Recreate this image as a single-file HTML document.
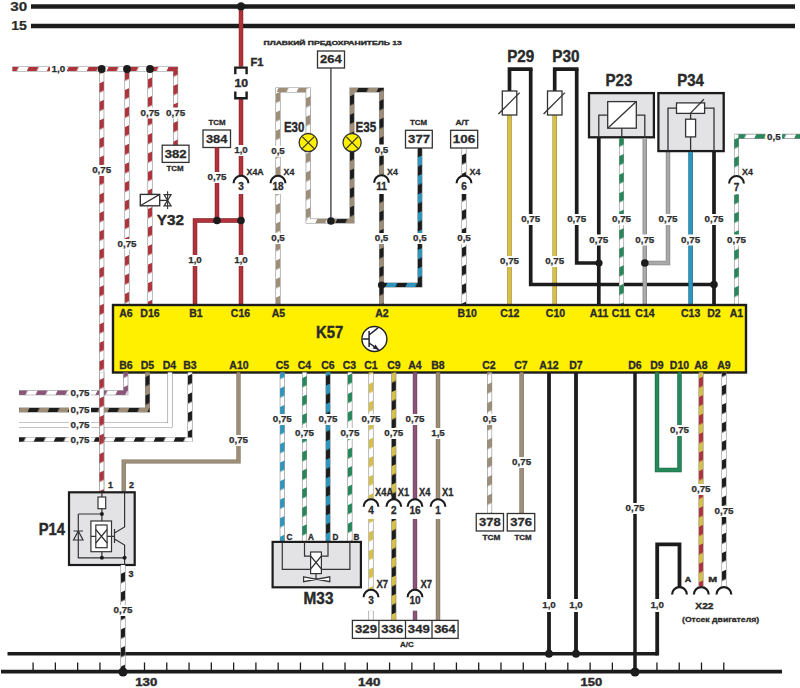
<!DOCTYPE html>
<html><head><meta charset="utf-8"><style>
html,body{margin:0;padding:0;background:#fff;}
svg{display:block;}
text{font-family:"Liberation Sans",sans-serif;}
</style></head><body>
<svg width="800" height="688" viewBox="0 0 800 688">
<defs><pattern id="p0" patternUnits="userSpaceOnUse" width="18.1" height="18.1" patternTransform="rotate(25)"><rect width="18.1" height="18.1" fill="#fff"/><rect width="9.05" height="18.1" fill="#B0323A"/></pattern>
<pattern id="p1" patternUnits="userSpaceOnUse" width="16.8" height="16.8" patternTransform="rotate(65)"><rect width="16.8" height="16.8" fill="#fff"/><rect width="8.4" height="16.8" fill="#B0323A"/></pattern>
<pattern id="p2" patternUnits="userSpaceOnUse" width="16.8" height="16.8" patternTransform="rotate(65)"><rect width="16.8" height="16.8" fill="#fff"/><rect width="8.4" height="16.8" fill="#9E8E78"/></pattern>
<pattern id="p3" patternUnits="userSpaceOnUse" width="18.1" height="18.1" patternTransform="rotate(25)"><rect width="18.1" height="18.1" fill="#fff"/><rect width="9.05" height="18.1" fill="#9E8E78"/></pattern>
<pattern id="p4" patternUnits="userSpaceOnUse" width="18.1" height="18.1" patternTransform="rotate(25)"><rect width="18.1" height="18.1" fill="#9E8E78"/><rect width="9.05" height="18.1" fill="#1c1c1c"/></pattern>
<pattern id="p5" patternUnits="userSpaceOnUse" width="16.8" height="16.8" patternTransform="rotate(65)"><rect width="16.8" height="16.8" fill="#9E8E78"/><rect width="8.4" height="16.8" fill="#1c1c1c"/></pattern>
<pattern id="p6" patternUnits="userSpaceOnUse" width="16.8" height="16.8" patternTransform="rotate(65)"><rect width="16.8" height="16.8" fill="#1c1c1c"/><rect width="8.4" height="16.8" fill="#2D96BE"/></pattern>
<pattern id="p7" patternUnits="userSpaceOnUse" width="18.1" height="18.1" patternTransform="rotate(25)"><rect width="18.1" height="18.1" fill="#1c1c1c"/><rect width="9.05" height="18.1" fill="#2D96BE"/></pattern>
<pattern id="p8" patternUnits="userSpaceOnUse" width="16.8" height="16.8" patternTransform="rotate(65)"><rect width="16.8" height="16.8" fill="#fff"/><rect width="8.4" height="16.8" fill="#1c1c1c"/></pattern>
<pattern id="p9" patternUnits="userSpaceOnUse" width="16.8" height="16.8" patternTransform="rotate(65)"><rect width="16.8" height="16.8" fill="#fff"/><rect width="8.4" height="16.8" fill="#24885A"/></pattern>
<pattern id="p10" patternUnits="userSpaceOnUse" width="18.1" height="18.1" patternTransform="rotate(25)"><rect width="18.1" height="18.1" fill="#fff"/><rect width="9.05" height="18.1" fill="#24885A"/></pattern>
<pattern id="p11" patternUnits="userSpaceOnUse" width="16.8" height="16.8" patternTransform="rotate(65)"><rect width="16.8" height="16.8" fill="#fff"/><rect width="8.4" height="16.8" fill="#8C5478"/></pattern>
<pattern id="p12" patternUnits="userSpaceOnUse" width="18.1" height="18.1" patternTransform="rotate(25)"><rect width="18.1" height="18.1" fill="#fff"/><rect width="9.05" height="18.1" fill="#8C5478"/></pattern>
<pattern id="p13" patternUnits="userSpaceOnUse" width="16.8" height="16.8" patternTransform="rotate(65)"><rect width="16.8" height="16.8" fill="#fff"/><rect width="8.4" height="16.8" fill="#fff"/></pattern>
<pattern id="p14" patternUnits="userSpaceOnUse" width="18.1" height="18.1" patternTransform="rotate(25)"><rect width="18.1" height="18.1" fill="#fff"/><rect width="9.05" height="18.1" fill="#fff"/></pattern>
<pattern id="p15" patternUnits="userSpaceOnUse" width="18.1" height="18.1" patternTransform="rotate(25)"><rect width="18.1" height="18.1" fill="#fff"/><rect width="9.05" height="18.1" fill="#1c1c1c"/></pattern>
<pattern id="p16" patternUnits="userSpaceOnUse" width="16.8" height="16.8" patternTransform="rotate(65)"><rect width="16.8" height="16.8" fill="#fff"/><rect width="8.4" height="16.8" fill="#2D96BE"/></pattern>
<pattern id="p17" patternUnits="userSpaceOnUse" width="16.8" height="16.8" patternTransform="rotate(65)"><rect width="16.8" height="16.8" fill="#fff"/><rect width="8.4" height="16.8" fill="#D8BF46"/></pattern>
<pattern id="p18" patternUnits="userSpaceOnUse" width="16.8" height="16.8" patternTransform="rotate(65)"><rect width="16.8" height="16.8" fill="#1c1c1c"/><rect width="8.4" height="16.8" fill="#D8BF46"/></pattern>
<pattern id="p19" patternUnits="userSpaceOnUse" width="16.8" height="16.8" patternTransform="rotate(65)"><rect width="16.8" height="16.8" fill="#D8BF46"/><rect width="8.4" height="16.8" fill="#B0323A"/></pattern></defs>
<rect x="0" y="0" width="800" height="688" fill="#fff"/>
<text x="10.22" y="11.03" font-size="12.39" font-weight="bold" fill="#2a2a2a" stroke="#2a2a2a" stroke-width="0.2" textLength="16.92" lengthAdjust="spacingAndGlyphs">30</text>
<text x="11.18" y="30.17" font-size="12.57" font-weight="bold" fill="#2a2a2a" stroke="#2a2a2a" stroke-width="0.2" textLength="15.70" lengthAdjust="spacingAndGlyphs">15</text>
<polyline points="31,6.4 795,6.4" fill="none" stroke="#1c1c1c" stroke-width="4.5" stroke-linejoin="miter" stroke-linecap="butt"/>
<polyline points="31,25.9 795,25.9" fill="none" stroke="#1c1c1c" stroke-width="4.5" stroke-linejoin="miter" stroke-linecap="butt"/>
<polyline points="7.5,653.75 657.5,653.75" fill="none" stroke="#1c1c1c" stroke-width="3.5" stroke-linejoin="miter" stroke-linecap="butt"/>
<polyline points="1,671.6 782,671.6" fill="none" stroke="#1c1c1c" stroke-width="3.6" stroke-linejoin="miter" stroke-linecap="butt"/>
<line x1="33.1" y1="662.5" x2="33.1" y2="671" stroke="#1c1c1c" stroke-width="1.3"/>
<line x1="55.38" y1="662.5" x2="55.38" y2="671" stroke="#1c1c1c" stroke-width="1.3"/>
<line x1="77.66" y1="662.5" x2="77.66" y2="671" stroke="#1c1c1c" stroke-width="1.3"/>
<line x1="99.94" y1="662.5" x2="99.94" y2="671" stroke="#1c1c1c" stroke-width="1.3"/>
<line x1="122.22" y1="662.5" x2="122.22" y2="671" stroke="#1c1c1c" stroke-width="1.3"/>
<line x1="144.5" y1="662.5" x2="144.5" y2="671" stroke="#1c1c1c" stroke-width="1.3"/>
<line x1="166.78" y1="662.5" x2="166.78" y2="671" stroke="#1c1c1c" stroke-width="1.3"/>
<line x1="189.06" y1="662.5" x2="189.06" y2="671" stroke="#1c1c1c" stroke-width="1.3"/>
<line x1="211.34" y1="662.5" x2="211.34" y2="671" stroke="#1c1c1c" stroke-width="1.3"/>
<line x1="233.62" y1="662.5" x2="233.62" y2="671" stroke="#1c1c1c" stroke-width="1.3"/>
<line x1="255.9" y1="662.5" x2="255.9" y2="671" stroke="#1c1c1c" stroke-width="1.3"/>
<line x1="278.18" y1="662.5" x2="278.18" y2="671" stroke="#1c1c1c" stroke-width="1.3"/>
<line x1="300.46" y1="662.5" x2="300.46" y2="671" stroke="#1c1c1c" stroke-width="1.3"/>
<line x1="322.74" y1="662.5" x2="322.74" y2="671" stroke="#1c1c1c" stroke-width="1.3"/>
<line x1="345.02" y1="662.5" x2="345.02" y2="671" stroke="#1c1c1c" stroke-width="1.3"/>
<line x1="367.3" y1="662.5" x2="367.3" y2="671" stroke="#1c1c1c" stroke-width="1.3"/>
<line x1="389.58" y1="662.5" x2="389.58" y2="671" stroke="#1c1c1c" stroke-width="1.3"/>
<line x1="411.86" y1="662.5" x2="411.86" y2="671" stroke="#1c1c1c" stroke-width="1.3"/>
<line x1="434.14" y1="662.5" x2="434.14" y2="671" stroke="#1c1c1c" stroke-width="1.3"/>
<line x1="456.42" y1="662.5" x2="456.42" y2="671" stroke="#1c1c1c" stroke-width="1.3"/>
<line x1="478.7" y1="662.5" x2="478.7" y2="671" stroke="#1c1c1c" stroke-width="1.3"/>
<line x1="500.98" y1="662.5" x2="500.98" y2="671" stroke="#1c1c1c" stroke-width="1.3"/>
<line x1="523.26" y1="662.5" x2="523.26" y2="671" stroke="#1c1c1c" stroke-width="1.3"/>
<line x1="545.54" y1="662.5" x2="545.54" y2="671" stroke="#1c1c1c" stroke-width="1.3"/>
<line x1="567.82" y1="662.5" x2="567.82" y2="671" stroke="#1c1c1c" stroke-width="1.3"/>
<line x1="590.1" y1="662.5" x2="590.1" y2="671" stroke="#1c1c1c" stroke-width="1.3"/>
<line x1="612.38" y1="662.5" x2="612.38" y2="671" stroke="#1c1c1c" stroke-width="1.3"/>
<line x1="634.66" y1="662.5" x2="634.66" y2="671" stroke="#1c1c1c" stroke-width="1.3"/>
<line x1="656.94" y1="662.5" x2="656.94" y2="671" stroke="#1c1c1c" stroke-width="1.3"/>
<line x1="679.22" y1="662.5" x2="679.22" y2="671" stroke="#1c1c1c" stroke-width="1.3"/>
<line x1="701.5" y1="662.5" x2="701.5" y2="671" stroke="#1c1c1c" stroke-width="1.3"/>
<line x1="723.78" y1="662.5" x2="723.78" y2="671" stroke="#1c1c1c" stroke-width="1.3"/>
<text x="135.24" y="685.59" font-size="10.56" font-weight="bold" fill="#2a2a2a" stroke="#2a2a2a" stroke-width="0.4" textLength="22.03" lengthAdjust="spacingAndGlyphs">130</text>
<text x="358.08" y="685.59" font-size="11.27" font-weight="bold" fill="#2a2a2a" stroke="#2a2a2a" stroke-width="0.4" textLength="22.30" lengthAdjust="spacingAndGlyphs">140</text>
<text x="580.61" y="685.59" font-size="11.27" font-weight="bold" fill="#2a2a2a" stroke="#2a2a2a" stroke-width="0.4" textLength="21.66" lengthAdjust="spacingAndGlyphs">150</text>
<polyline points="12.5,69 175.6,69 175.6,145.2" fill="none" stroke="#8a8a8a" stroke-width="5.1" stroke-linecap="butt"/>
<line x1="12.5" y1="69" x2="177.55" y2="69" stroke="url(#p0)" stroke-width="3.9"/>
<line x1="175.6" y1="67.05" x2="175.6" y2="145.2" stroke="url(#p1)" stroke-width="3.9"/>
<polyline points="101.7,69 101.7,492" fill="none" stroke="#8a8a8a" stroke-width="5.1" stroke-linecap="butt"/>
<line x1="101.7" y1="69" x2="101.7" y2="492" stroke="url(#p1)" stroke-width="3.9"/>
<polyline points="127,69 127,305" fill="none" stroke="#8a8a8a" stroke-width="5.1" stroke-linecap="butt"/>
<line x1="127" y1="69" x2="127" y2="305" stroke="url(#p1)" stroke-width="3.9"/>
<polyline points="150,69 150,305" fill="none" stroke="#8a8a8a" stroke-width="5.1" stroke-linecap="butt"/>
<line x1="150" y1="69" x2="150" y2="305" stroke="url(#p1)" stroke-width="3.9"/>
<rect x="49.9952" y="65" width="16.6096" height="8" fill="#fff"/>
<text x="58.3" y="72.3" font-size="8.9" text-anchor="middle" fill="#2e2e2e" stroke="#2e2e2e" stroke-width="0.25" font-weight="bold" letter-spacing="0" textLength="13.61" lengthAdjust="spacingAndGlyphs">1,0</text>
<circle cx="101.7" cy="69" r="3.9" fill="#1c1c1c"/>
<circle cx="127" cy="69" r="3.9" fill="#1c1c1c"/>
<circle cx="150" cy="69" r="3.9" fill="#1c1c1c"/>
<rect x="170.6" y="107.5" width="10" height="11" fill="#fff"/>
<text x="175.6" y="115.8" font-size="8.9" text-anchor="middle" fill="#2e2e2e" stroke="#2e2e2e" stroke-width="0.25" font-weight="bold" letter-spacing="0" textLength="19.05" lengthAdjust="spacingAndGlyphs">0,75</text>
<rect x="145" y="107.5" width="10" height="11" fill="#fff"/>
<text x="150" y="115.8" font-size="8.9" text-anchor="middle" fill="#2e2e2e" stroke="#2e2e2e" stroke-width="0.25" font-weight="bold" letter-spacing="0" textLength="19.05" lengthAdjust="spacingAndGlyphs">0,75</text>
<rect x="96.7" y="165" width="10" height="11" fill="#fff"/>
<text x="101.7" y="173.3" font-size="8.9" text-anchor="middle" fill="#2e2e2e" stroke="#2e2e2e" stroke-width="0.25" font-weight="bold" letter-spacing="0" textLength="19.05" lengthAdjust="spacingAndGlyphs">0,75</text>
<rect x="122" y="239" width="10" height="11" fill="#fff"/>
<text x="127" y="247.3" font-size="8.9" text-anchor="middle" fill="#2e2e2e" stroke="#2e2e2e" stroke-width="0.25" font-weight="bold" letter-spacing="0" textLength="19.05" lengthAdjust="spacingAndGlyphs">0,75</text>
<rect x="162.2" y="145.2" width="26.8" height="17.2" fill="#fff" stroke="#333" stroke-width="1.3"/>
<text x="164.77" y="157.69" font-size="11.27" font-weight="bold" fill="#2a2a2a" stroke="#2a2a2a" stroke-width="0.3" textLength="21.90" lengthAdjust="spacingAndGlyphs">382</text>
<text x="175" y="171.3" font-size="7.9" text-anchor="middle" fill="#2a2a2a" stroke="#2a2a2a" stroke-width="0.3" font-weight="bold" letter-spacing="0">TCM</text>
<rect x="140.3" y="194.4" width="19.4" height="11.4" fill="#fff" stroke="#333" stroke-width="1.4"/>
<line x1="140.3" y1="205.8" x2="159.7" y2="194.4" stroke="#333" stroke-width="1.3"/>
<line x1="159.7" y1="200.4" x2="167.6" y2="200.4" stroke="#333" stroke-width="1.3"/>
<path d="M164.1,194.6 L171.1,194.6 L167.6,200.4 L171.1,205.8 L164.1,205.8 L167.6,200.4 Z" fill="#fff" stroke="#333" stroke-width="1.2"/>
<line x1="167.6" y1="191.2" x2="167.6" y2="209" stroke="#333" stroke-width="1.1"/>
<text x="156.89" y="225.40" font-size="15.28" font-weight="bold" fill="#2a2a2a" stroke="#2a2a2a" stroke-width="0.4" textLength="27.26" lengthAdjust="spacingAndGlyphs">Y32</text>
<polyline points="241,6.4 241,66.5" fill="none" stroke="#7e2429" stroke-width="4.5" stroke-linejoin="miter" stroke-linecap="butt"/>
<polyline points="241,6.4 241,66.5" fill="none" stroke="#B0323A" stroke-width="3.4" stroke-linejoin="miter" stroke-linecap="butt"/>
<polyline points="241,98.5 241,175" fill="none" stroke="#7e2429" stroke-width="4.5" stroke-linejoin="miter" stroke-linecap="butt"/>
<polyline points="241,98.5 241,175" fill="none" stroke="#B0323A" stroke-width="3.4" stroke-linejoin="miter" stroke-linecap="butt"/>
<polyline points="241,194 241,305" fill="none" stroke="#7e2429" stroke-width="4.5" stroke-linejoin="miter" stroke-linecap="butt"/>
<polyline points="241,194 241,305" fill="none" stroke="#B0323A" stroke-width="3.4" stroke-linejoin="miter" stroke-linecap="butt"/>
<circle cx="241" cy="6.4" r="4.2" fill="#1c1c1c"/>
<path d="M235.3,74.2 V67.6 H246.6 V74.2 M235.3,91.6 V98.2 H246.6 V91.6" fill="none" stroke="#1c1c1c" stroke-width="2.4"/>
<text x="234.40" y="86.79" font-size="10.70" font-weight="bold" fill="#2a2a2a" stroke="#2a2a2a" stroke-width="0.4" textLength="13.61" lengthAdjust="spacingAndGlyphs">10</text>
<text x="250.47" y="65.80" font-size="10.00" font-weight="bold" fill="#2a2a2a" stroke="#2a2a2a" stroke-width="0.4" textLength="13.03" lengthAdjust="spacingAndGlyphs">F1</text>
<rect x="236" y="145" width="10" height="11" fill="#fff"/>
<text x="241" y="153.3" font-size="8.9" text-anchor="middle" fill="#2e2e2e" stroke="#2e2e2e" stroke-width="0.25" font-weight="bold" letter-spacing="0" textLength="13.61" lengthAdjust="spacingAndGlyphs">1,0</text>
<rect x="236" y="255" width="10" height="11" fill="#fff"/>
<text x="241" y="263.3" font-size="8.9" text-anchor="middle" fill="#2e2e2e" stroke="#2e2e2e" stroke-width="0.25" font-weight="bold" letter-spacing="0" textLength="13.61" lengthAdjust="spacingAndGlyphs">1,0</text>
<path d="M233.6,183.2 A7.4,7.4 0 0 1 248.4,183.2" fill="none" stroke="#1c1c1c" stroke-width="2.1"/>
<text x="241" y="190.3" font-size="10" text-anchor="middle" fill="#2a2a2a" stroke="#2a2a2a" stroke-width="0.3" font-weight="bold" letter-spacing="0">3</text>
<text x="246.5" y="175" font-size="9.8" text-anchor="start" fill="#2a2a2a" stroke="#2a2a2a" stroke-width="0.3" font-weight="bold" letter-spacing="0" textLength="17.16" lengthAdjust="spacingAndGlyphs">X4A</text>
<rect x="203" y="130" width="27.5" height="17.5" fill="#fff" stroke="#333" stroke-width="1.3"/>
<text x="205.93" y="142.64" font-size="11.27" font-weight="bold" fill="#2a2a2a" stroke="#2a2a2a" stroke-width="0.3" textLength="21.43" lengthAdjust="spacingAndGlyphs">384</text>
<text x="217" y="125" font-size="7.9" text-anchor="middle" fill="#2a2a2a" stroke="#2a2a2a" stroke-width="0.3" font-weight="bold" letter-spacing="0">TCM</text>
<polyline points="217,147.5 217,220.5" fill="none" stroke="#7e2429" stroke-width="4.5" stroke-linejoin="miter" stroke-linecap="butt"/>
<polyline points="217,147.5 217,220.5" fill="none" stroke="#B0323A" stroke-width="3.4" stroke-linejoin="miter" stroke-linecap="butt"/>
<polyline points="241,220.5 195,220.5 195,305" fill="none" stroke="#7e2429" stroke-width="4.5" stroke-linejoin="miter" stroke-linecap="butt"/>
<polyline points="241,220.5 195,220.5 195,305" fill="none" stroke="#B0323A" stroke-width="3.4" stroke-linejoin="miter" stroke-linecap="butt"/>
<rect x="212" y="172" width="10" height="11" fill="#fff"/>
<text x="217" y="180.3" font-size="8.9" text-anchor="middle" fill="#2e2e2e" stroke="#2e2e2e" stroke-width="0.25" font-weight="bold" letter-spacing="0" textLength="19.05" lengthAdjust="spacingAndGlyphs">0,75</text>
<rect x="190" y="255" width="10" height="11" fill="#fff"/>
<text x="195" y="263.3" font-size="8.9" text-anchor="middle" fill="#2e2e2e" stroke="#2e2e2e" stroke-width="0.25" font-weight="bold" letter-spacing="0" textLength="13.61" lengthAdjust="spacingAndGlyphs">1,0</text>
<circle cx="217" cy="220.5" r="3.8" fill="#1c1c1c"/>
<circle cx="241" cy="220.5" r="3.8" fill="#1c1c1c"/>
<text x="263.60" y="45.13" font-size="4.84" font-weight="bold" fill="#2a2a2a" stroke="#2a2a2a" stroke-width="0.3" textLength="138.08" lengthAdjust="spacingAndGlyphs">ПЛАВКИЙ ПРЕДОХРАНИТЕЛЬ 13</text>
<rect x="317.5" y="51" width="27" height="17" fill="#fff" stroke="#333" stroke-width="1.3"/>
<text x="320.05" y="63.39" font-size="11.27" font-weight="bold" fill="#2a2a2a" stroke="#2a2a2a" stroke-width="0.3" textLength="21.56" lengthAdjust="spacingAndGlyphs">264</text>
<line x1="330.9" y1="68" x2="330.9" y2="221" stroke="#444" stroke-width="1.4"/>
<polyline points="278,175 278,90 308.2,90 308.2,221 330.9,221" fill="none" stroke="#8a8a8a" stroke-width="5.1" stroke-linecap="butt"/>
<line x1="278" y1="175" x2="278" y2="88.05" stroke="url(#p2)" stroke-width="3.9"/>
<line x1="276.05" y1="90" x2="310.15" y2="90" stroke="url(#p3)" stroke-width="3.9"/>
<line x1="308.2" y1="88.05" x2="308.2" y2="222.95" stroke="url(#p2)" stroke-width="3.9"/>
<line x1="306.25" y1="221" x2="330.9" y2="221" stroke="url(#p3)" stroke-width="3.9"/>
<polyline points="278,194 278,305" fill="none" stroke="#8a8a8a" stroke-width="5.1" stroke-linecap="butt"/>
<line x1="278" y1="194" x2="278" y2="305" stroke="url(#p2)" stroke-width="3.9"/>
<polyline points="330.9,221 352,221 352,90 381.5,90 381.5,174.5" fill="none" stroke="#8a8a8a" stroke-width="5.1" stroke-linecap="butt"/>
<line x1="330.9" y1="221" x2="353.95" y2="221" stroke="url(#p4)" stroke-width="3.9"/>
<line x1="352" y1="222.95" x2="352" y2="88.05" stroke="url(#p5)" stroke-width="3.9"/>
<line x1="350.05" y1="90" x2="383.45" y2="90" stroke="url(#p4)" stroke-width="3.9"/>
<line x1="381.5" y1="88.05" x2="381.5" y2="174.5" stroke="url(#p5)" stroke-width="3.9"/>
<polyline points="381.5,194 381.5,305" fill="none" stroke="#8a8a8a" stroke-width="5.1" stroke-linecap="butt"/>
<line x1="381.5" y1="194" x2="381.5" y2="305" stroke="url(#p5)" stroke-width="3.9"/>
<circle cx="330.9" cy="221" r="3.8" fill="#1c1c1c"/>
<rect x="273" y="145.8" width="10" height="11" fill="#fff"/>
<text x="278" y="154.1" font-size="8.9" text-anchor="middle" fill="#2e2e2e" stroke="#2e2e2e" stroke-width="0.25" font-weight="bold" letter-spacing="0" textLength="13.61" lengthAdjust="spacingAndGlyphs">0,5</text>
<rect x="273" y="233" width="10" height="11" fill="#fff"/>
<text x="278" y="241.3" font-size="8.9" text-anchor="middle" fill="#2e2e2e" stroke="#2e2e2e" stroke-width="0.25" font-weight="bold" letter-spacing="0" textLength="13.61" lengthAdjust="spacingAndGlyphs">0,5</text>
<rect x="376.5" y="144.5" width="10" height="11" fill="#fff"/>
<text x="381.5" y="152.8" font-size="8.9" text-anchor="middle" fill="#2e2e2e" stroke="#2e2e2e" stroke-width="0.25" font-weight="bold" letter-spacing="0" textLength="13.61" lengthAdjust="spacingAndGlyphs">0,5</text>
<rect x="376.5" y="233" width="10" height="11" fill="#fff"/>
<text x="381.5" y="241.3" font-size="8.9" text-anchor="middle" fill="#2e2e2e" stroke="#2e2e2e" stroke-width="0.25" font-weight="bold" letter-spacing="0" textLength="13.61" lengthAdjust="spacingAndGlyphs">0,5</text>
<path d="M270.6,183.2 A7.4,7.4 0 0 1 285.4,183.2" fill="none" stroke="#1c1c1c" stroke-width="2.1"/>
<text x="278" y="190.3" font-size="10" text-anchor="middle" fill="#2a2a2a" stroke="#2a2a2a" stroke-width="0.3" font-weight="bold" letter-spacing="0">18</text>
<text x="283.5" y="175" font-size="9.8" text-anchor="start" fill="#2a2a2a" stroke="#2a2a2a" stroke-width="0.3" font-weight="bold" letter-spacing="0" textLength="10.79" lengthAdjust="spacingAndGlyphs">X4</text>
<path d="M374.1,182.7 A7.4,7.4 0 0 1 388.9,182.7" fill="none" stroke="#1c1c1c" stroke-width="2.1"/>
<text x="381.5" y="189.8" font-size="10" text-anchor="middle" fill="#2a2a2a" stroke="#2a2a2a" stroke-width="0.3" font-weight="bold" letter-spacing="0">11</text>
<text x="387" y="174.5" font-size="9.8" text-anchor="start" fill="#2a2a2a" stroke="#2a2a2a" stroke-width="0.3" font-weight="bold" letter-spacing="0" textLength="10.79" lengthAdjust="spacingAndGlyphs">X4</text>
<circle cx="308.2" cy="142.6" r="9.1" fill="#FFF000" stroke="#333" stroke-width="1.3"/>
<path d="M302.2,136.6 L314.2,148.6 M302.2,148.6 L314.2,136.6" stroke="#333" stroke-width="1.2"/>
<circle cx="352.1" cy="142.6" r="9.1" fill="#FFF000" stroke="#333" stroke-width="1.3"/>
<path d="M346.1,136.6 L358.1,148.6 M346.1,148.6 L358.1,136.6" stroke="#333" stroke-width="1.2"/>
<text x="283.95" y="131.95" font-size="14.65" font-weight="bold" fill="#2a2a2a" stroke="#2a2a2a" stroke-width="0.4" textLength="20.50" lengthAdjust="spacingAndGlyphs">E30</text>
<text x="355.54" y="131.95" font-size="14.65" font-weight="bold" fill="#2a2a2a" stroke="#2a2a2a" stroke-width="0.4" textLength="20.74" lengthAdjust="spacingAndGlyphs">E35</text>
<rect x="405.5" y="130.3" width="26.8" height="17.7" fill="#fff" stroke="#333" stroke-width="1.3"/>
<text x="408.07" y="143.04" font-size="11.27" font-weight="bold" fill="#2a2a2a" stroke="#2a2a2a" stroke-width="0.3" textLength="21.97" lengthAdjust="spacingAndGlyphs">377</text>
<text x="418.5" y="125" font-size="7.9" text-anchor="middle" fill="#2a2a2a" stroke="#2a2a2a" stroke-width="0.3" font-weight="bold" letter-spacing="0">TCM</text>
<polyline points="419.9,148 419.9,285 381.5,285" fill="none" stroke="#8a8a8a" stroke-width="5.1" stroke-linecap="butt"/>
<line x1="419.9" y1="148" x2="419.9" y2="286.95" stroke="url(#p6)" stroke-width="3.9"/>
<line x1="421.85" y1="285" x2="381.5" y2="285" stroke="url(#p7)" stroke-width="3.9"/>
<circle cx="381.5" cy="285" r="3.6" fill="#1c1c1c"/>
<rect x="414.9" y="233" width="10" height="11" fill="#fff"/>
<text x="419.9" y="241.3" font-size="8.9" text-anchor="middle" fill="#2e2e2e" stroke="#2e2e2e" stroke-width="0.25" font-weight="bold" letter-spacing="0" textLength="13.61" lengthAdjust="spacingAndGlyphs">0,5</text>
<rect x="450.6" y="130.3" width="27.1" height="17.7" fill="#fff" stroke="#333" stroke-width="1.3"/>
<text x="452.78" y="143.04" font-size="11.27" font-weight="bold" fill="#2a2a2a" stroke="#2a2a2a" stroke-width="0.3" textLength="22.39" lengthAdjust="spacingAndGlyphs">106</text>
<text x="455.44" y="125.12" font-size="6.58" font-weight="bold" fill="#2a2a2a" stroke="#2a2a2a" stroke-width="0.3" textLength="13.50" lengthAdjust="spacingAndGlyphs">A/T</text>
<polyline points="464,149 464,175" fill="none" stroke="#8a8a8a" stroke-width="5.1" stroke-linecap="butt"/>
<line x1="464" y1="149" x2="464" y2="175" stroke="url(#p8)" stroke-width="3.9"/>
<polyline points="464,194 464,305" fill="none" stroke="#8a8a8a" stroke-width="5.1" stroke-linecap="butt"/>
<line x1="464" y1="194" x2="464" y2="305" stroke="url(#p8)" stroke-width="3.9"/>
<path d="M456.6,183.2 A7.4,7.4 0 0 1 471.4,183.2" fill="none" stroke="#1c1c1c" stroke-width="2.1"/>
<text x="464" y="190.3" font-size="10" text-anchor="middle" fill="#2a2a2a" stroke="#2a2a2a" stroke-width="0.3" font-weight="bold" letter-spacing="0">6</text>
<text x="469.5" y="175" font-size="9.8" text-anchor="start" fill="#2a2a2a" stroke="#2a2a2a" stroke-width="0.3" font-weight="bold" letter-spacing="0" textLength="10.79" lengthAdjust="spacingAndGlyphs">X4</text>
<rect x="459" y="233" width="10" height="11" fill="#fff"/>
<text x="464" y="241.3" font-size="8.9" text-anchor="middle" fill="#2e2e2e" stroke="#2e2e2e" stroke-width="0.25" font-weight="bold" letter-spacing="0" textLength="13.61" lengthAdjust="spacingAndGlyphs">0,5</text>
<polyline points="509.5,91 509.5,69.2 532.55,69.2" fill="none" stroke="#1c1c1c" stroke-width="3.7" stroke-linejoin="miter" stroke-linecap="butt"/>
<line x1="509.5" y1="91" x2="509.5" y2="115" stroke="#444" stroke-width="1"/>
<polyline points="509.5,115 509.5,305" fill="none" stroke="#9b8932" stroke-width="4.5" stroke-linejoin="miter" stroke-linecap="butt"/>
<polyline points="509.5,115 509.5,305" fill="none" stroke="#D8BF46" stroke-width="3.4" stroke-linejoin="miter" stroke-linecap="butt"/>
<rect x="502.3" y="91" width="14.5" height="24" fill="#fff" stroke="#333" stroke-width="1.3"/>
<line x1="498.4" y1="114" x2="519.7" y2="92.6" stroke="#333" stroke-width="1.3"/>
<rect x="504.5" y="256" width="10" height="11" fill="#fff"/>
<text x="509.5" y="264.3" font-size="8.9" text-anchor="middle" fill="#2e2e2e" stroke="#2e2e2e" stroke-width="0.25" font-weight="bold" letter-spacing="0" textLength="19.05" lengthAdjust="spacingAndGlyphs">0,75</text>
<polyline points="554.7,91 554.7,69.2 578.55,69.2" fill="none" stroke="#1c1c1c" stroke-width="3.7" stroke-linejoin="miter" stroke-linecap="butt"/>
<line x1="554.7" y1="91" x2="554.7" y2="115" stroke="#444" stroke-width="1"/>
<polyline points="554.7,115 554.7,305" fill="none" stroke="#9b8932" stroke-width="4.5" stroke-linejoin="miter" stroke-linecap="butt"/>
<polyline points="554.7,115 554.7,305" fill="none" stroke="#D8BF46" stroke-width="3.4" stroke-linejoin="miter" stroke-linecap="butt"/>
<rect x="547.5" y="91" width="14.5" height="24" fill="#fff" stroke="#333" stroke-width="1.3"/>
<line x1="543.6" y1="114" x2="564.9" y2="92.6" stroke="#333" stroke-width="1.3"/>
<rect x="549.7" y="256" width="10" height="11" fill="#fff"/>
<text x="554.7" y="264.3" font-size="8.9" text-anchor="middle" fill="#2e2e2e" stroke="#2e2e2e" stroke-width="0.25" font-weight="bold" letter-spacing="0" textLength="19.05" lengthAdjust="spacingAndGlyphs">0,75</text>
<polyline points="530.7,69.2 530.7,284.5 714,284.5" fill="none" stroke="#1c1c1c" stroke-width="3.7" stroke-linejoin="miter" stroke-linecap="butt"/>
<text x="507.21" y="62.39" font-size="15.99" font-weight="bold" fill="#2a2a2a" stroke="#2a2a2a" stroke-width="0.4" textLength="27.11" lengthAdjust="spacingAndGlyphs">P29</text>
<text x="552.21" y="62.39" font-size="15.99" font-weight="bold" fill="#2a2a2a" stroke="#2a2a2a" stroke-width="0.4" textLength="27.20" lengthAdjust="spacingAndGlyphs">P30</text>
<polyline points="576.7,69.2 576.7,263 599,263" fill="none" stroke="#1c1c1c" stroke-width="3.7" stroke-linejoin="miter" stroke-linecap="butt"/>
<rect x="525.7" y="214" width="10" height="11" fill="#fff"/>
<text x="530.7" y="222.3" font-size="8.9" text-anchor="middle" fill="#2e2e2e" stroke="#2e2e2e" stroke-width="0.25" font-weight="bold" letter-spacing="0" textLength="19.05" lengthAdjust="spacingAndGlyphs">0,75</text>
<rect x="571.7" y="214" width="10" height="11" fill="#fff"/>
<text x="576.7" y="222.3" font-size="8.9" text-anchor="middle" fill="#2e2e2e" stroke="#2e2e2e" stroke-width="0.25" font-weight="bold" letter-spacing="0" textLength="19.05" lengthAdjust="spacingAndGlyphs">0,75</text>
<circle cx="599" cy="263" r="3.6" fill="#1c1c1c"/>
<circle cx="714" cy="284.5" r="3.8" fill="#1c1c1c"/>
<rect x="589" y="93.1" width="64.9" height="44.2" fill="#E3E3E5" stroke="#1c1c1c" stroke-width="2.3"/>
<rect x="607.7" y="101.6" width="28.6" height="26.6" fill="#fff" stroke="#333" stroke-width="1.3"/>
<line x1="607.7" y1="128.2" x2="636.3" y2="101.6" stroke="#333" stroke-width="1.3"/>
<polyline points="598.8,137.3 598.8,115.2 607.7,115.2" fill="none" stroke="#333" stroke-width="1.3"/>
<polyline points="644.8,137.3 644.8,115.2 636.3,115.2" fill="none" stroke="#333" stroke-width="1.3"/>
<line x1="621.8" y1="128.2" x2="621.8" y2="137.3" stroke="#333" stroke-width="1.3"/>
<text x="605.47" y="86.39" font-size="16.34" font-weight="bold" fill="#2a2a2a" stroke="#2a2a2a" stroke-width="0.4" textLength="26.85" lengthAdjust="spacingAndGlyphs">P23</text>
<polyline points="598.8,138 598.8,305" fill="none" stroke="#1c1c1c" stroke-width="3.7" stroke-linejoin="miter" stroke-linecap="butt"/>
<polyline points="621.5,138 621.5,305" fill="none" stroke="#8a8a8a" stroke-width="5.1" stroke-linecap="butt"/>
<line x1="621.5" y1="138" x2="621.5" y2="305" stroke="url(#p9)" stroke-width="3.9"/>
<polyline points="644.8,138 644.8,305" fill="none" stroke="#797979" stroke-width="4.4" stroke-linejoin="miter" stroke-linecap="butt"/>
<polyline points="644.8,138 644.8,305" fill="none" stroke="#A9A9A9" stroke-width="3.3" stroke-linejoin="miter" stroke-linecap="butt"/>
<polyline points="668,151.5 668,263 644.8,263" fill="none" stroke="#797979" stroke-width="4.4" stroke-linejoin="miter" stroke-linecap="butt"/>
<polyline points="668,151.5 668,263 644.8,263" fill="none" stroke="#A9A9A9" stroke-width="3.3" stroke-linejoin="miter" stroke-linecap="butt"/>
<circle cx="644.8" cy="263" r="3.8" fill="#1c1c1c"/>
<rect x="593.8" y="234.5" width="10" height="11" fill="#fff"/>
<text x="598.8" y="242.8" font-size="8.9" text-anchor="middle" fill="#2e2e2e" stroke="#2e2e2e" stroke-width="0.25" font-weight="bold" letter-spacing="0" textLength="19.05" lengthAdjust="spacingAndGlyphs">0,75</text>
<rect x="616.5" y="214" width="10" height="11" fill="#fff"/>
<text x="621.5" y="222.3" font-size="8.9" text-anchor="middle" fill="#2e2e2e" stroke="#2e2e2e" stroke-width="0.25" font-weight="bold" letter-spacing="0" textLength="19.05" lengthAdjust="spacingAndGlyphs">0,75</text>
<rect x="639.8" y="234.5" width="10" height="11" fill="#fff"/>
<text x="644.8" y="242.8" font-size="8.9" text-anchor="middle" fill="#2e2e2e" stroke="#2e2e2e" stroke-width="0.25" font-weight="bold" letter-spacing="0" textLength="19.05" lengthAdjust="spacingAndGlyphs">0,75</text>
<rect x="663" y="214" width="10" height="11" fill="#fff"/>
<text x="668" y="222.3" font-size="8.9" text-anchor="middle" fill="#2e2e2e" stroke="#2e2e2e" stroke-width="0.25" font-weight="bold" letter-spacing="0" textLength="19.05" lengthAdjust="spacingAndGlyphs">0,75</text>
<rect x="658.4" y="93.1" width="65.3" height="58" fill="#E3E3E5" stroke="#1c1c1c" stroke-width="2.3"/>
<rect x="676.5" y="102.9" width="28.1" height="10.5" fill="#fff" stroke="#333" stroke-width="1.3"/>
<line x1="690.1" y1="113.6" x2="703.9" y2="99.2" stroke="#333" stroke-width="1.3"/>
<rect x="685.6" y="119.2" width="10" height="17.7" fill="#fff" stroke="#333" stroke-width="1.3"/>
<polyline points="668,151.1 668,108.2 676.5,108.2" fill="none" stroke="#333" stroke-width="1.3"/>
<polyline points="714,151.1 714,108.2 704.6,108.2" fill="none" stroke="#333" stroke-width="1.3"/>
<line x1="690.6" y1="113.4" x2="690.6" y2="119.2" stroke="#333" stroke-width="1.3"/>
<line x1="690.6" y1="136.9" x2="690.6" y2="151.1" stroke="#333" stroke-width="1.3"/>
<text x="677.23" y="86.39" font-size="16.34" font-weight="bold" fill="#2a2a2a" stroke="#2a2a2a" stroke-width="0.4" textLength="26.64" lengthAdjust="spacingAndGlyphs">P34</text>
<polyline points="690.6,152 690.6,305" fill="none" stroke="#206c88" stroke-width="4.6" stroke-linejoin="miter" stroke-linecap="butt"/>
<polyline points="690.6,152 690.6,305" fill="none" stroke="#2D96BE" stroke-width="3.5" stroke-linejoin="miter" stroke-linecap="butt"/>
<polyline points="714,152 714,305" fill="none" stroke="#1c1c1c" stroke-width="3.7" stroke-linejoin="miter" stroke-linecap="butt"/>
<rect x="685.6" y="234.5" width="10" height="11" fill="#fff"/>
<text x="690.6" y="242.8" font-size="8.9" text-anchor="middle" fill="#2e2e2e" stroke="#2e2e2e" stroke-width="0.25" font-weight="bold" letter-spacing="0" textLength="19.05" lengthAdjust="spacingAndGlyphs">0,75</text>
<rect x="709" y="214" width="10" height="11" fill="#fff"/>
<text x="714" y="222.3" font-size="8.9" text-anchor="middle" fill="#2e2e2e" stroke="#2e2e2e" stroke-width="0.25" font-weight="bold" letter-spacing="0" textLength="19.05" lengthAdjust="spacingAndGlyphs">0,75</text>
<polyline points="800,136.4 736.5,136.4 736.5,175.2" fill="none" stroke="#8a8a8a" stroke-width="5.1" stroke-linecap="butt"/>
<line x1="800" y1="136.4" x2="734.55" y2="136.4" stroke="url(#p10)" stroke-width="3.9"/>
<line x1="736.5" y1="134.45" x2="736.5" y2="175.2" stroke="url(#p9)" stroke-width="3.9"/>
<polyline points="736.5,194.4 736.5,305" fill="none" stroke="#8a8a8a" stroke-width="5.1" stroke-linecap="butt"/>
<line x1="736.5" y1="194.4" x2="736.5" y2="305" stroke="url(#p9)" stroke-width="3.9"/>
<rect x="765.495" y="132.4" width="16.6096" height="8" fill="#fff"/>
<text x="773.8" y="139.7" font-size="8.9" text-anchor="middle" fill="#2e2e2e" stroke="#2e2e2e" stroke-width="0.25" font-weight="bold" letter-spacing="0" textLength="13.61" lengthAdjust="spacingAndGlyphs">0,5</text>
<path d="M729.1,183.4 A7.4,7.4 0 0 1 743.9,183.4" fill="none" stroke="#1c1c1c" stroke-width="2.1"/>
<text x="736.5" y="190.5" font-size="10" text-anchor="middle" fill="#2a2a2a" stroke="#2a2a2a" stroke-width="0.3" font-weight="bold" letter-spacing="0">7</text>
<text x="742" y="175.2" font-size="9.8" text-anchor="start" fill="#2a2a2a" stroke="#2a2a2a" stroke-width="0.3" font-weight="bold" letter-spacing="0" textLength="10.79" lengthAdjust="spacingAndGlyphs">X4</text>
<rect x="731.5" y="234.5" width="10" height="11" fill="#fff"/>
<text x="736.5" y="242.8" font-size="8.9" text-anchor="middle" fill="#2e2e2e" stroke="#2e2e2e" stroke-width="0.25" font-weight="bold" letter-spacing="0" textLength="19.05" lengthAdjust="spacingAndGlyphs">0,75</text>
<rect x="113" y="305" width="633" height="67.5" fill="#FFF000" stroke="#1c1c1c" stroke-width="2.4"/>
<text x="126" y="317.3" font-size="10.5" text-anchor="middle" fill="#2a2a2a" stroke="#2a2a2a" stroke-width="0.3" font-weight="bold" letter-spacing="0">A6</text>
<text x="150" y="317.3" font-size="10.5" text-anchor="middle" fill="#2a2a2a" stroke="#2a2a2a" stroke-width="0.3" font-weight="bold" letter-spacing="0">D16</text>
<text x="196" y="317.3" font-size="10.5" text-anchor="middle" fill="#2a2a2a" stroke="#2a2a2a" stroke-width="0.3" font-weight="bold" letter-spacing="0">B1</text>
<text x="240.5" y="317.3" font-size="10.5" text-anchor="middle" fill="#2a2a2a" stroke="#2a2a2a" stroke-width="0.3" font-weight="bold" letter-spacing="0">C16</text>
<text x="278.5" y="317.3" font-size="10.5" text-anchor="middle" fill="#2a2a2a" stroke="#2a2a2a" stroke-width="0.3" font-weight="bold" letter-spacing="0">A5</text>
<text x="382" y="317.3" font-size="10.5" text-anchor="middle" fill="#2a2a2a" stroke="#2a2a2a" stroke-width="0.3" font-weight="bold" letter-spacing="0">A2</text>
<text x="467.2" y="317.3" font-size="10.5" text-anchor="middle" fill="#2a2a2a" stroke="#2a2a2a" stroke-width="0.3" font-weight="bold" letter-spacing="0">B10</text>
<text x="509.8" y="317.3" font-size="10.5" text-anchor="middle" fill="#2a2a2a" stroke="#2a2a2a" stroke-width="0.3" font-weight="bold" letter-spacing="0">C12</text>
<text x="555.5" y="317.3" font-size="10.5" text-anchor="middle" fill="#2a2a2a" stroke="#2a2a2a" stroke-width="0.3" font-weight="bold" letter-spacing="0">C10</text>
<text x="599" y="317.3" font-size="10.5" text-anchor="middle" fill="#2a2a2a" stroke="#2a2a2a" stroke-width="0.3" font-weight="bold" letter-spacing="0">A11</text>
<text x="621" y="317.3" font-size="10.5" text-anchor="middle" fill="#2a2a2a" stroke="#2a2a2a" stroke-width="0.3" font-weight="bold" letter-spacing="0">C11</text>
<text x="645" y="317.3" font-size="10.5" text-anchor="middle" fill="#2a2a2a" stroke="#2a2a2a" stroke-width="0.3" font-weight="bold" letter-spacing="0">C14</text>
<text x="690.6" y="317.3" font-size="10.5" text-anchor="middle" fill="#2a2a2a" stroke="#2a2a2a" stroke-width="0.3" font-weight="bold" letter-spacing="0">C13</text>
<text x="714" y="317.3" font-size="10.5" text-anchor="middle" fill="#2a2a2a" stroke="#2a2a2a" stroke-width="0.3" font-weight="bold" letter-spacing="0">D2</text>
<text x="736.5" y="317.3" font-size="10.5" text-anchor="middle" fill="#2a2a2a" stroke="#2a2a2a" stroke-width="0.3" font-weight="bold" letter-spacing="0">A1</text>
<text x="126" y="368.5" font-size="10.5" text-anchor="middle" fill="#2a2a2a" stroke="#2a2a2a" stroke-width="0.3" font-weight="bold" letter-spacing="0">B6</text>
<text x="147.5" y="368.5" font-size="10.5" text-anchor="middle" fill="#2a2a2a" stroke="#2a2a2a" stroke-width="0.3" font-weight="bold" letter-spacing="0">D5</text>
<text x="169.5" y="368.5" font-size="10.5" text-anchor="middle" fill="#2a2a2a" stroke="#2a2a2a" stroke-width="0.3" font-weight="bold" letter-spacing="0">D4</text>
<text x="190" y="368.5" font-size="10.5" text-anchor="middle" fill="#2a2a2a" stroke="#2a2a2a" stroke-width="0.3" font-weight="bold" letter-spacing="0">B3</text>
<text x="239" y="368.5" font-size="10.5" text-anchor="middle" fill="#2a2a2a" stroke="#2a2a2a" stroke-width="0.3" font-weight="bold" letter-spacing="0">A10</text>
<text x="282.5" y="368.5" font-size="10.5" text-anchor="middle" fill="#2a2a2a" stroke="#2a2a2a" stroke-width="0.3" font-weight="bold" letter-spacing="0">C5</text>
<text x="304.5" y="368.5" font-size="10.5" text-anchor="middle" fill="#2a2a2a" stroke="#2a2a2a" stroke-width="0.3" font-weight="bold" letter-spacing="0">C4</text>
<text x="328" y="368.5" font-size="10.5" text-anchor="middle" fill="#2a2a2a" stroke="#2a2a2a" stroke-width="0.3" font-weight="bold" letter-spacing="0">C6</text>
<text x="349.5" y="368.5" font-size="10.5" text-anchor="middle" fill="#2a2a2a" stroke="#2a2a2a" stroke-width="0.3" font-weight="bold" letter-spacing="0">C3</text>
<text x="371" y="368.5" font-size="10.5" text-anchor="middle" fill="#2a2a2a" stroke="#2a2a2a" stroke-width="0.3" font-weight="bold" letter-spacing="0">C1</text>
<text x="394" y="368.5" font-size="10.5" text-anchor="middle" fill="#2a2a2a" stroke="#2a2a2a" stroke-width="0.3" font-weight="bold" letter-spacing="0">C9</text>
<text x="415" y="368.5" font-size="10.5" text-anchor="middle" fill="#2a2a2a" stroke="#2a2a2a" stroke-width="0.3" font-weight="bold" letter-spacing="0">A4</text>
<text x="438" y="368.5" font-size="10.5" text-anchor="middle" fill="#2a2a2a" stroke="#2a2a2a" stroke-width="0.3" font-weight="bold" letter-spacing="0">B8</text>
<text x="489" y="368.5" font-size="10.5" text-anchor="middle" fill="#2a2a2a" stroke="#2a2a2a" stroke-width="0.3" font-weight="bold" letter-spacing="0">C2</text>
<text x="521" y="368.5" font-size="10.5" text-anchor="middle" fill="#2a2a2a" stroke="#2a2a2a" stroke-width="0.3" font-weight="bold" letter-spacing="0">C7</text>
<text x="549" y="368.5" font-size="10.5" text-anchor="middle" fill="#2a2a2a" stroke="#2a2a2a" stroke-width="0.3" font-weight="bold" letter-spacing="0">A12</text>
<text x="576" y="368.5" font-size="10.5" text-anchor="middle" fill="#2a2a2a" stroke="#2a2a2a" stroke-width="0.3" font-weight="bold" letter-spacing="0">D7</text>
<text x="635" y="368.5" font-size="10.5" text-anchor="middle" fill="#2a2a2a" stroke="#2a2a2a" stroke-width="0.3" font-weight="bold" letter-spacing="0">D6</text>
<text x="657" y="368.5" font-size="10.5" text-anchor="middle" fill="#2a2a2a" stroke="#2a2a2a" stroke-width="0.3" font-weight="bold" letter-spacing="0">D9</text>
<text x="679.5" y="368.5" font-size="10.5" text-anchor="middle" fill="#2a2a2a" stroke="#2a2a2a" stroke-width="0.3" font-weight="bold" letter-spacing="0">D10</text>
<text x="701" y="368.5" font-size="10.5" text-anchor="middle" fill="#2a2a2a" stroke="#2a2a2a" stroke-width="0.3" font-weight="bold" letter-spacing="0">A8</text>
<text x="724" y="368.5" font-size="10.5" text-anchor="middle" fill="#2a2a2a" stroke="#2a2a2a" stroke-width="0.3" font-weight="bold" letter-spacing="0">A9</text>
<text x="315.99" y="337.74" font-size="15.86" font-weight="bold" fill="#2a2a2a" stroke="#2a2a2a" stroke-width="0.4" textLength="27.23" lengthAdjust="spacingAndGlyphs">K57</text>
<circle cx="374.4" cy="339" r="12.5" fill="#fff" stroke="#222" stroke-width="1.4"/>
<path d="M369.1,331 V347 M362.5,339 H369.1 M369.1,335 L378,327.8 M369.1,343 L378.6,349.6" fill="none" stroke="#223" stroke-width="1.5"/>
<path d="M378.8,349.7 L372.6,348.6 L375.6,344.6 Z" fill="#223"/>
<polyline points="125.75,372.5 125.75,392.75 19,392.75" fill="none" stroke="#8a8a8a" stroke-width="5.1" stroke-linecap="butt"/>
<line x1="125.75" y1="372.5" x2="125.75" y2="394.7" stroke="url(#p11)" stroke-width="3.9"/>
<line x1="127.7" y1="392.75" x2="19" y2="392.75" stroke="url(#p12)" stroke-width="3.9"/>
<polyline points="147.5,372.5 147.5,410 19,410" fill="none" stroke="#8a8a8a" stroke-width="5.1" stroke-linecap="butt"/>
<line x1="147.5" y1="372.5" x2="147.5" y2="411.95" stroke="url(#p5)" stroke-width="3.9"/>
<line x1="149.45" y1="410" x2="19" y2="410" stroke="url(#p4)" stroke-width="3.9"/>
<polyline points="170,372.5 170,425 19,425" fill="none" stroke="#8a8a8a" stroke-width="5.1" stroke-linecap="butt"/>
<line x1="170" y1="372.5" x2="170" y2="426.95" stroke="url(#p13)" stroke-width="3.9"/>
<line x1="171.95" y1="425" x2="19" y2="425" stroke="url(#p14)" stroke-width="3.9"/>
<polyline points="190,372.5 190,439.5 19,439.5" fill="none" stroke="#8a8a8a" stroke-width="5.1" stroke-linecap="butt"/>
<line x1="190" y1="372.5" x2="190" y2="441.45" stroke="url(#p8)" stroke-width="3.9"/>
<line x1="191.95" y1="439.5" x2="19" y2="439.5" stroke="url(#p15)" stroke-width="3.9"/>
<rect x="68.9727" y="388.75" width="22.0546" height="8" fill="#fff"/>
<text x="80" y="396.05" font-size="8.9" text-anchor="middle" fill="#2e2e2e" stroke="#2e2e2e" stroke-width="0.25" font-weight="bold" letter-spacing="0" textLength="19.05" lengthAdjust="spacingAndGlyphs">0,75</text>
<rect x="68.9727" y="406" width="22.0546" height="8" fill="#fff"/>
<text x="80" y="413.3" font-size="8.9" text-anchor="middle" fill="#2e2e2e" stroke="#2e2e2e" stroke-width="0.25" font-weight="bold" letter-spacing="0" textLength="19.05" lengthAdjust="spacingAndGlyphs">0,75</text>
<rect x="68.9727" y="421" width="22.0546" height="8" fill="#fff"/>
<text x="80" y="428.3" font-size="8.9" text-anchor="middle" fill="#2e2e2e" stroke="#2e2e2e" stroke-width="0.25" font-weight="bold" letter-spacing="0" textLength="19.05" lengthAdjust="spacingAndGlyphs">0,75</text>
<rect x="68.9727" y="435.5" width="22.0546" height="8" fill="#fff"/>
<text x="80" y="442.8" font-size="8.9" text-anchor="middle" fill="#2e2e2e" stroke="#2e2e2e" stroke-width="0.25" font-weight="bold" letter-spacing="0" textLength="19.05" lengthAdjust="spacingAndGlyphs">0,75</text>
<polyline points="101.7,372.5 101.7,492" fill="none" stroke="#8a8a8a" stroke-width="5.1" stroke-linecap="butt"/>
<line x1="101.7" y1="372.5" x2="101.7" y2="492" stroke="url(#p1)" stroke-width="3.9"/>
<polyline points="238.5,372.5 238.5,461.5 123.7,461.5 123.7,492" fill="none" stroke="#716656" stroke-width="4.2" stroke-linejoin="miter" stroke-linecap="butt"/>
<polyline points="238.5,372.5 238.5,461.5 123.7,461.5 123.7,492" fill="none" stroke="#9E8E78" stroke-width="3.1" stroke-linejoin="miter" stroke-linecap="butt"/>
<rect x="233.5" y="435" width="10" height="11" fill="#fff"/>
<text x="238.5" y="443.3" font-size="8.9" text-anchor="middle" fill="#2e2e2e" stroke="#2e2e2e" stroke-width="0.25" font-weight="bold" letter-spacing="0" textLength="19.05" lengthAdjust="spacingAndGlyphs">0,75</text>
<rect x="69" y="492.3" width="65.7" height="72.7" fill="#E3E3E5" stroke="#1c1c1c" stroke-width="2.2"/>
<path d="M101.9,492.3 V497 M101.9,508.7 V521 M78.3,514 H101.9 M78.3,514 V557.8 H124.6 M101.9,551.7 V557.8" stroke="#333" stroke-width="1.2" fill="none"/>
<rect x="98" y="497" width="7.7" height="11.7" fill="#fff" stroke="#333" stroke-width="1.2"/>
<rect x="90.9" y="521" width="20.6" height="30.7" fill="#fff" stroke="#333" stroke-width="1.2"/>
<rect x="95.8" y="525" width="11.3" height="22.7" fill="#fff" stroke="#333" stroke-width="1.2"/>
<path d="M95.8,529.5 L107.1,543 M95.8,543 L107.1,529.5 M90.9,536.3 H95.8 M107.1,536.3 H114.5" stroke="#333" stroke-width="1.2" fill="none"/>
<path d="M114.5,529 V543 M114.5,533 L124.6,527 V492.3 M114.5,539 L124.6,545 V565" stroke="#333" stroke-width="1.2" fill="none"/>
<path d="M73.5,540 L83,540 L78.3,531 Z M73.5,531 H83" stroke="#333" stroke-width="1.2" fill="none"/>
<circle cx="101.9" cy="514" r="2" fill="#1c1c1c"/>
<circle cx="101.9" cy="557.8" r="2" fill="#1c1c1c"/>
<circle cx="124.6" cy="557.8" r="2" fill="#1c1c1c"/>
<text x="108" y="488.3" font-size="9" text-anchor="start" fill="#2a2a2a" stroke="#2a2a2a" stroke-width="0.3" font-weight="bold" letter-spacing="0">1</text>
<text x="129" y="488.3" font-size="9" text-anchor="start" fill="#2a2a2a" stroke="#2a2a2a" stroke-width="0.3" font-weight="bold" letter-spacing="0">2</text>
<text x="128.5" y="576.5" font-size="9" text-anchor="start" fill="#2a2a2a" stroke="#2a2a2a" stroke-width="0.3" font-weight="bold" letter-spacing="0">3</text>
<text x="38.74" y="535.05" font-size="15.72" font-weight="bold" fill="#2a2a2a" stroke="#2a2a2a" stroke-width="0.4" textLength="26.38" lengthAdjust="spacingAndGlyphs">P14</text>
<polyline points="123,565 123,672" fill="none" stroke="#8a8a8a" stroke-width="5.1" stroke-linecap="butt"/>
<line x1="123" y1="565" x2="123" y2="672" stroke="url(#p8)" stroke-width="3.9"/>
<rect x="118" y="605" width="10" height="11" fill="#fff"/>
<text x="123" y="613.3" font-size="8.9" text-anchor="middle" fill="#2e2e2e" stroke="#2e2e2e" stroke-width="0.25" font-weight="bold" letter-spacing="0" textLength="19.05" lengthAdjust="spacingAndGlyphs">0,75</text>
<circle cx="123" cy="672" r="4.6" fill="#1c1c1c"/>
<polyline points="282.3,372.5 282.3,542" fill="none" stroke="#8a8a8a" stroke-width="5.1" stroke-linecap="butt"/>
<line x1="282.3" y1="372.5" x2="282.3" y2="542" stroke="url(#p16)" stroke-width="3.9"/>
<polyline points="304.5,372.5 304.5,542" fill="none" stroke="#8a8a8a" stroke-width="5.1" stroke-linecap="butt"/>
<line x1="304.5" y1="372.5" x2="304.5" y2="542" stroke="url(#p9)" stroke-width="3.9"/>
<polyline points="328,372.5 328,542" fill="none" stroke="#8a8a8a" stroke-width="5.1" stroke-linecap="butt"/>
<line x1="328" y1="372.5" x2="328" y2="542" stroke="url(#p6)" stroke-width="3.9"/>
<polyline points="349.9,372.5 349.9,542" fill="none" stroke="#8a8a8a" stroke-width="5.1" stroke-linecap="butt"/>
<line x1="349.9" y1="372.5" x2="349.9" y2="542" stroke="url(#p9)" stroke-width="3.9"/>
<rect x="277.3" y="414" width="10" height="11" fill="#fff"/>
<text x="282.3" y="422.3" font-size="8.9" text-anchor="middle" fill="#2e2e2e" stroke="#2e2e2e" stroke-width="0.25" font-weight="bold" letter-spacing="0" textLength="19.05" lengthAdjust="spacingAndGlyphs">0,75</text>
<rect x="299.5" y="428" width="10" height="11" fill="#fff"/>
<text x="304.5" y="436.3" font-size="8.9" text-anchor="middle" fill="#2e2e2e" stroke="#2e2e2e" stroke-width="0.25" font-weight="bold" letter-spacing="0" textLength="19.05" lengthAdjust="spacingAndGlyphs">0,75</text>
<rect x="323" y="414" width="10" height="11" fill="#fff"/>
<text x="328" y="422.3" font-size="8.9" text-anchor="middle" fill="#2e2e2e" stroke="#2e2e2e" stroke-width="0.25" font-weight="bold" letter-spacing="0" textLength="19.05" lengthAdjust="spacingAndGlyphs">0,75</text>
<rect x="344.9" y="428" width="10" height="11" fill="#fff"/>
<text x="349.9" y="436.3" font-size="8.9" text-anchor="middle" fill="#2e2e2e" stroke="#2e2e2e" stroke-width="0.25" font-weight="bold" letter-spacing="0" textLength="19.05" lengthAdjust="spacingAndGlyphs">0,75</text>
<rect x="272.6" y="541.9" width="88.3" height="45.4" fill="#E3E3E5" stroke="#1c1c1c" stroke-width="2.2"/>
<path d="M282.3,541.9 V569.3 H310.6 M349.9,541.9 V569.3 H321.4 M304.5,541.9 V556.2 H310.6 M328,541.9 V556.2 H321.4 M316,573.6 V579" stroke="#333" stroke-width="1.2" fill="none"/>
<rect x="310.6" y="552" width="10.8" height="21.6" fill="#fff" stroke="#333" stroke-width="1.2"/>
<path d="M310.6,556 L321.4,569 M310.6,569 L321.4,556" stroke="#333" stroke-width="1.2" fill="none"/>
<path d="M303.6,576.8 L329.8,581.7 V576.8 L303.6,581.7 Z" fill="#fff" stroke="#333" stroke-width="1.2"/>
<text x="289.5" y="539.8" font-size="8.2" text-anchor="middle" fill="#2a2a2a" stroke="#2a2a2a" stroke-width="0.3" font-weight="bold" letter-spacing="0">C</text>
<text x="311" y="539.8" font-size="8.2" text-anchor="middle" fill="#2a2a2a" stroke="#2a2a2a" stroke-width="0.3" font-weight="bold" letter-spacing="0">A</text>
<text x="335.5" y="539.8" font-size="8.2" text-anchor="middle" fill="#2a2a2a" stroke="#2a2a2a" stroke-width="0.3" font-weight="bold" letter-spacing="0">D</text>
<text x="356.5" y="539.8" font-size="8.2" text-anchor="middle" fill="#2a2a2a" stroke="#2a2a2a" stroke-width="0.3" font-weight="bold" letter-spacing="0">B</text>
<text x="303.60" y="604.34" font-size="15.77" font-weight="bold" fill="#2a2a2a" stroke="#2a2a2a" stroke-width="0.4" textLength="29.84" lengthAdjust="spacingAndGlyphs">M33</text>
<polyline points="371,372.5 371,499" fill="none" stroke="#8a8a8a" stroke-width="5.1" stroke-linecap="butt"/>
<line x1="371" y1="372.5" x2="371" y2="499" stroke="url(#p17)" stroke-width="3.9"/>
<polyline points="371,519 371,589" fill="none" stroke="#8a8a8a" stroke-width="5.1" stroke-linecap="butt"/>
<line x1="371" y1="519" x2="371" y2="589" stroke="url(#p17)" stroke-width="3.9"/>
<polyline points="371,610.8 371,620.4" fill="none" stroke="#8a8a8a" stroke-width="5.1" stroke-linecap="butt"/>
<line x1="371" y1="610.8" x2="371" y2="620.4" stroke="url(#p13)" stroke-width="3.9"/>
<polyline points="393.8,372.5 393.8,499" fill="none" stroke="#8a8a8a" stroke-width="5.1" stroke-linecap="butt"/>
<line x1="393.8" y1="372.5" x2="393.8" y2="499" stroke="url(#p18)" stroke-width="3.9"/>
<polyline points="393.8,519 393.8,620.4" fill="none" stroke="#8a8a8a" stroke-width="5.1" stroke-linecap="butt"/>
<line x1="393.8" y1="519" x2="393.8" y2="620.4" stroke="url(#p18)" stroke-width="3.9"/>
<polyline points="415,372.5 415,499" fill="none" stroke="#643c56" stroke-width="4.4" stroke-linejoin="miter" stroke-linecap="butt"/>
<polyline points="415,372.5 415,499" fill="none" stroke="#8C5478" stroke-width="3.3" stroke-linejoin="miter" stroke-linecap="butt"/>
<polyline points="415,519 415,589" fill="none" stroke="#643c56" stroke-width="4.4" stroke-linejoin="miter" stroke-linecap="butt"/>
<polyline points="415,519 415,589" fill="none" stroke="#8C5478" stroke-width="3.3" stroke-linejoin="miter" stroke-linecap="butt"/>
<polyline points="415,610.8 415,620.4" fill="none" stroke="#643c56" stroke-width="4.4" stroke-linejoin="miter" stroke-linecap="butt"/>
<polyline points="415,610.8 415,620.4" fill="none" stroke="#8C5478" stroke-width="3.3" stroke-linejoin="miter" stroke-linecap="butt"/>
<polyline points="438,372.5 438,499" fill="none" stroke="#716656" stroke-width="4.4" stroke-linejoin="miter" stroke-linecap="butt"/>
<polyline points="438,372.5 438,499" fill="none" stroke="#9E8E78" stroke-width="3.3" stroke-linejoin="miter" stroke-linecap="butt"/>
<polyline points="438,519 438,620.4" fill="none" stroke="#716656" stroke-width="4.4" stroke-linejoin="miter" stroke-linecap="butt"/>
<polyline points="438,519 438,620.4" fill="none" stroke="#9E8E78" stroke-width="3.3" stroke-linejoin="miter" stroke-linecap="butt"/>
<rect x="366" y="414" width="10" height="11" fill="#fff"/>
<text x="371" y="422.3" font-size="8.9" text-anchor="middle" fill="#2e2e2e" stroke="#2e2e2e" stroke-width="0.25" font-weight="bold" letter-spacing="0" textLength="19.05" lengthAdjust="spacingAndGlyphs">0,75</text>
<rect x="388.8" y="428" width="10" height="11" fill="#fff"/>
<text x="393.8" y="436.3" font-size="8.9" text-anchor="middle" fill="#2e2e2e" stroke="#2e2e2e" stroke-width="0.25" font-weight="bold" letter-spacing="0" textLength="19.05" lengthAdjust="spacingAndGlyphs">0,75</text>
<rect x="410" y="414" width="10" height="11" fill="#fff"/>
<text x="415" y="422.3" font-size="8.9" text-anchor="middle" fill="#2e2e2e" stroke="#2e2e2e" stroke-width="0.25" font-weight="bold" letter-spacing="0" textLength="19.05" lengthAdjust="spacingAndGlyphs">0,75</text>
<rect x="433" y="428" width="10" height="11" fill="#fff"/>
<text x="438" y="436.3" font-size="8.9" text-anchor="middle" fill="#2e2e2e" stroke="#2e2e2e" stroke-width="0.25" font-weight="bold" letter-spacing="0" textLength="13.61" lengthAdjust="spacingAndGlyphs">1,5</text>
<path d="M363.6,506.7 A7.4,7.4 0 0 1 378.4,506.7" fill="none" stroke="#1c1c1c" stroke-width="2.1"/>
<text x="371" y="513.8" font-size="10" text-anchor="middle" fill="#2a2a2a" stroke="#2a2a2a" stroke-width="0.3" font-weight="bold" letter-spacing="0">4</text>
<text x="375" y="496.3" font-size="10.4" text-anchor="start" fill="#2a2a2a" stroke="#2a2a2a" stroke-width="0.3" font-weight="bold" letter-spacing="0" textLength="18.21" lengthAdjust="spacingAndGlyphs">X4A</text>
<path d="M386.4,506.7 A7.4,7.4 0 0 1 401.2,506.7" fill="none" stroke="#1c1c1c" stroke-width="2.1"/>
<text x="393.8" y="513.8" font-size="10" text-anchor="middle" fill="#2a2a2a" stroke="#2a2a2a" stroke-width="0.3" font-weight="bold" letter-spacing="0">2</text>
<text x="397.8" y="496.3" font-size="10.4" text-anchor="start" fill="#2a2a2a" stroke="#2a2a2a" stroke-width="0.3" font-weight="bold" letter-spacing="0" textLength="11.45" lengthAdjust="spacingAndGlyphs">X1</text>
<path d="M407.6,506.7 A7.4,7.4 0 0 1 422.4,506.7" fill="none" stroke="#1c1c1c" stroke-width="2.1"/>
<text x="415" y="513.8" font-size="10" text-anchor="middle" fill="#2a2a2a" stroke="#2a2a2a" stroke-width="0.3" font-weight="bold" letter-spacing="0">16</text>
<text x="419" y="496.3" font-size="10.4" text-anchor="start" fill="#2a2a2a" stroke="#2a2a2a" stroke-width="0.3" font-weight="bold" letter-spacing="0" textLength="11.45" lengthAdjust="spacingAndGlyphs">X4</text>
<path d="M430.6,506.7 A7.4,7.4 0 0 1 445.4,506.7" fill="none" stroke="#1c1c1c" stroke-width="2.1"/>
<text x="438" y="513.8" font-size="10" text-anchor="middle" fill="#2a2a2a" stroke="#2a2a2a" stroke-width="0.3" font-weight="bold" letter-spacing="0">1</text>
<text x="442" y="496.3" font-size="10.4" text-anchor="start" fill="#2a2a2a" stroke="#2a2a2a" stroke-width="0.3" font-weight="bold" letter-spacing="0" textLength="11.45" lengthAdjust="spacingAndGlyphs">X1</text>
<path d="M363.6,597.2 A7.4,7.4 0 0 1 378.4,597.2" fill="none" stroke="#1c1c1c" stroke-width="2.1"/>
<text x="371" y="604.3" font-size="10" text-anchor="middle" fill="#2a2a2a" stroke="#2a2a2a" stroke-width="0.3" font-weight="bold" letter-spacing="0">3</text>
<text x="376.5" y="588" font-size="10.6" text-anchor="start" fill="#2a2a2a" stroke="#2a2a2a" stroke-width="0.3" font-weight="bold" letter-spacing="0" textLength="11.67" lengthAdjust="spacingAndGlyphs">X7</text>
<path d="M407.6,597.2 A7.4,7.4 0 0 1 422.4,597.2" fill="none" stroke="#1c1c1c" stroke-width="2.1"/>
<text x="415" y="604.3" font-size="10" text-anchor="middle" fill="#2a2a2a" stroke="#2a2a2a" stroke-width="0.3" font-weight="bold" letter-spacing="0">10</text>
<text x="420.5" y="588" font-size="10.6" text-anchor="start" fill="#2a2a2a" stroke="#2a2a2a" stroke-width="0.3" font-weight="bold" letter-spacing="0" textLength="11.67" lengthAdjust="spacingAndGlyphs">X7</text>
<rect x="352.4" y="620.4" width="105.7" height="18" fill="#fff" stroke="#333" stroke-width="1.3"/>
<line x1="378.9" y1="620.4" x2="378.9" y2="638.4" stroke="#333" stroke-width="1.3"/>
<line x1="405.5" y1="620.4" x2="405.5" y2="638.4" stroke="#333" stroke-width="1.3"/>
<line x1="432" y1="620.4" x2="432" y2="638.4" stroke="#333" stroke-width="1.3"/>
<text x="355.02" y="633.48" font-size="11.76" font-weight="bold" fill="#2a2a2a" stroke="#2a2a2a" stroke-width="0.3" textLength="21.94" lengthAdjust="spacingAndGlyphs">329</text>
<text x="381.32" y="633.48" font-size="11.76" font-weight="bold" fill="#2a2a2a" stroke="#2a2a2a" stroke-width="0.3" textLength="21.94" lengthAdjust="spacingAndGlyphs">336</text>
<text x="407.87" y="633.48" font-size="11.76" font-weight="bold" fill="#2a2a2a" stroke="#2a2a2a" stroke-width="0.3" textLength="21.94" lengthAdjust="spacingAndGlyphs">349</text>
<text x="434.18" y="633.48" font-size="11.76" font-weight="bold" fill="#2a2a2a" stroke="#2a2a2a" stroke-width="0.3" textLength="21.53" lengthAdjust="spacingAndGlyphs">364</text>
<text x="406.9" y="646.6" font-size="7.9" text-anchor="middle" fill="#2a2a2a" stroke="#2a2a2a" stroke-width="0.3" font-weight="bold" letter-spacing="0">A/C</text>
<polyline points="489.6,372.5 489.6,513.5" fill="none" stroke="#8a8a8a" stroke-width="5.1" stroke-linecap="butt"/>
<line x1="489.6" y1="372.5" x2="489.6" y2="513.5" stroke="url(#p2)" stroke-width="3.9"/>
<polyline points="521.6,372.5 521.6,513.5" fill="none" stroke="#716656" stroke-width="4.4" stroke-linejoin="miter" stroke-linecap="butt"/>
<polyline points="521.6,372.5 521.6,513.5" fill="none" stroke="#9E8E78" stroke-width="3.3" stroke-linejoin="miter" stroke-linecap="butt"/>
<rect x="484.6" y="414" width="10" height="11" fill="#fff"/>
<text x="489.6" y="422.3" font-size="8.9" text-anchor="middle" fill="#2e2e2e" stroke="#2e2e2e" stroke-width="0.25" font-weight="bold" letter-spacing="0" textLength="13.61" lengthAdjust="spacingAndGlyphs">0,5</text>
<rect x="516.6" y="457" width="10" height="11" fill="#fff"/>
<text x="521.6" y="465.3" font-size="8.9" text-anchor="middle" fill="#2e2e2e" stroke="#2e2e2e" stroke-width="0.25" font-weight="bold" letter-spacing="0" textLength="19.05" lengthAdjust="spacingAndGlyphs">0,75</text>
<rect x="476.25" y="513.5" width="27.25" height="17.5" fill="#fff" stroke="#333" stroke-width="1.3"/>
<text x="479.05" y="526.14" font-size="11.27" font-weight="bold" fill="#2a2a2a" stroke="#2a2a2a" stroke-width="0.3" textLength="21.76" lengthAdjust="spacingAndGlyphs">378</text>
<rect x="507.25" y="513.5" width="27.5" height="17.5" fill="#fff" stroke="#333" stroke-width="1.3"/>
<text x="510.17" y="526.14" font-size="11.27" font-weight="bold" fill="#2a2a2a" stroke="#2a2a2a" stroke-width="0.3" textLength="21.83" lengthAdjust="spacingAndGlyphs">376</text>
<text x="482.57" y="540.38" font-size="7.11" font-weight="bold" fill="#2a2a2a" stroke="#2a2a2a" stroke-width="0.3" textLength="17.83" lengthAdjust="spacingAndGlyphs">TCM</text>
<text x="514.47" y="540.38" font-size="7.11" font-weight="bold" fill="#2a2a2a" stroke="#2a2a2a" stroke-width="0.3" textLength="17.15" lengthAdjust="spacingAndGlyphs">TCM</text>
<polyline points="549,372.5 549,653.75" fill="none" stroke="#1c1c1c" stroke-width="3.8" stroke-linejoin="miter" stroke-linecap="butt"/>
<polyline points="576,372.5 576,653.75" fill="none" stroke="#1c1c1c" stroke-width="3.8" stroke-linejoin="miter" stroke-linecap="butt"/>
<rect x="544" y="599" width="10" height="13" fill="#fff"/>
<text x="549" y="608.3" font-size="8.9" text-anchor="middle" fill="#2e2e2e" stroke="#2e2e2e" stroke-width="0.25" font-weight="bold" letter-spacing="0" textLength="13.61" lengthAdjust="spacingAndGlyphs">1,0</text>
<rect x="571" y="599" width="10" height="13" fill="#fff"/>
<text x="576" y="608.3" font-size="8.9" text-anchor="middle" fill="#2e2e2e" stroke="#2e2e2e" stroke-width="0.25" font-weight="bold" letter-spacing="0" textLength="13.61" lengthAdjust="spacingAndGlyphs">1,0</text>
<circle cx="549" cy="653.75" r="3.9" fill="#1c1c1c"/>
<circle cx="576" cy="653.75" r="3.9" fill="#1c1c1c"/>
<polyline points="635,372.5 635,672" fill="none" stroke="#1c1c1c" stroke-width="3.5" stroke-linejoin="miter" stroke-linecap="butt"/>
<rect x="630" y="503" width="10" height="11" fill="#fff"/>
<text x="635" y="511.3" font-size="8.9" text-anchor="middle" fill="#2e2e2e" stroke="#2e2e2e" stroke-width="0.25" font-weight="bold" letter-spacing="0" textLength="19.05" lengthAdjust="spacingAndGlyphs">0,75</text>
<circle cx="635" cy="672" r="4.6" fill="#1c1c1c"/>
<polyline points="657,372.5 657,470 679.5,470 679.5,372.5" fill="none" stroke="#196140" stroke-width="4.4" stroke-linejoin="miter" stroke-linecap="butt"/>
<polyline points="657,372.5 657,470 679.5,470 679.5,372.5" fill="none" stroke="#24885A" stroke-width="3.3" stroke-linejoin="miter" stroke-linecap="butt"/>
<rect x="674.5" y="425" width="10" height="11" fill="#fff"/>
<text x="679.5" y="433.3" font-size="8.9" text-anchor="middle" fill="#2e2e2e" stroke="#2e2e2e" stroke-width="0.25" font-weight="bold" letter-spacing="0" textLength="19.05" lengthAdjust="spacingAndGlyphs">0,75</text>
<polyline points="701,372.5 701,586" fill="none" stroke="#8a8a8a" stroke-width="5.1" stroke-linecap="butt"/>
<line x1="701" y1="372.5" x2="701" y2="586" stroke="url(#p19)" stroke-width="3.9"/>
<polyline points="724,372.5 724,586" fill="none" stroke="#8a8a8a" stroke-width="5.1" stroke-linecap="butt"/>
<line x1="724" y1="372.5" x2="724" y2="586" stroke="url(#p8)" stroke-width="3.9"/>
<rect x="696" y="484" width="10" height="11" fill="#fff"/>
<text x="701" y="492.3" font-size="8.9" text-anchor="middle" fill="#2e2e2e" stroke="#2e2e2e" stroke-width="0.25" font-weight="bold" letter-spacing="0" textLength="19.05" lengthAdjust="spacingAndGlyphs">0,75</text>
<rect x="719" y="506" width="10" height="11" fill="#fff"/>
<text x="724" y="514.3" font-size="8.9" text-anchor="middle" fill="#2e2e2e" stroke="#2e2e2e" stroke-width="0.25" font-weight="bold" letter-spacing="0" textLength="19.05" lengthAdjust="spacingAndGlyphs">0,75</text>
<polyline points="657.2,655.5 657.2,544.4 679.5,544.4 679.5,587" fill="none" stroke="#1c1c1c" stroke-width="3.8" stroke-linejoin="miter" stroke-linecap="butt"/>
<rect x="652.2" y="599" width="10" height="13" fill="#fff"/>
<text x="657.2" y="608.3" font-size="8.9" text-anchor="middle" fill="#2e2e2e" stroke="#2e2e2e" stroke-width="0.25" font-weight="bold" letter-spacing="0" textLength="13.61" lengthAdjust="spacingAndGlyphs">1,0</text>
<path d="M672.1,594.5 A7.4,7.4 0 0 1 686.9,594.5" fill="none" stroke="#1c1c1c" stroke-width="2.2"/>
<path d="M693.9,594.5 A7.4,7.4 0 0 1 708.7,594.5" fill="none" stroke="#1c1c1c" stroke-width="2.2"/>
<path d="M716.5,594.5 A7.4,7.4 0 0 1 731.3,594.5" fill="none" stroke="#1c1c1c" stroke-width="2.2"/>
<text x="684.88" y="582.40" font-size="7.90" font-weight="bold" fill="#2a2a2a" stroke="#2a2a2a" stroke-width="0.4" textLength="6.47" lengthAdjust="spacingAndGlyphs">A</text>
<text x="708.26" y="582.40" font-size="7.90" font-weight="bold" fill="#2a2a2a" stroke="#2a2a2a" stroke-width="0.4" textLength="8.87" lengthAdjust="spacingAndGlyphs">M</text>
<text x="695.35" y="608.60" font-size="9.86" font-weight="bold" fill="#2a2a2a" stroke="#2a2a2a" stroke-width="0.4" textLength="18.10" lengthAdjust="spacingAndGlyphs">X22</text>
<text x="682.02" y="622.23" font-size="7.70" font-weight="bold" fill="#2a2a2a" stroke="#2a2a2a" stroke-width="0.3" textLength="77.04" lengthAdjust="spacingAndGlyphs">(Отсек двигателя)</text>
</svg></body></html>
